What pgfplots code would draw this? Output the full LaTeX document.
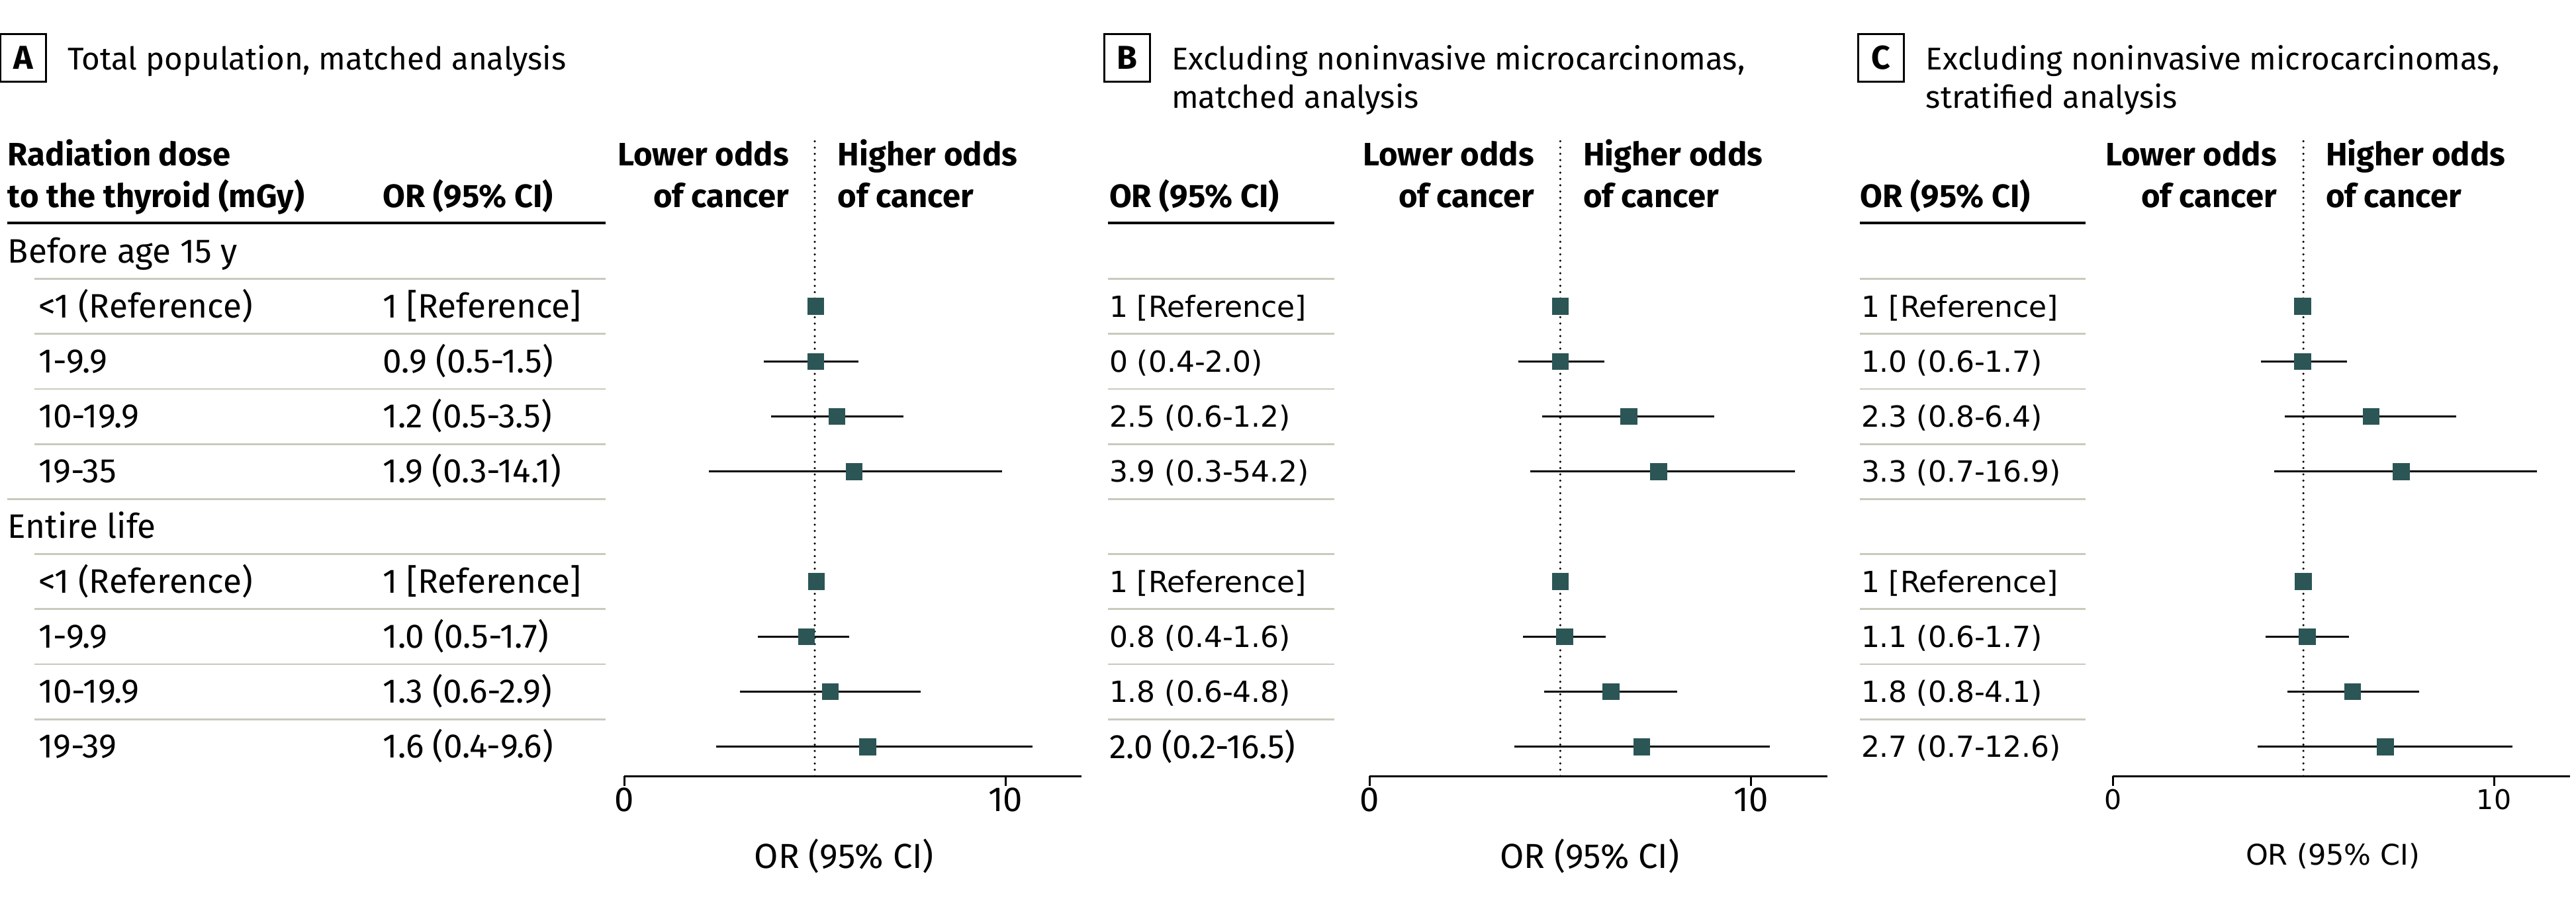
\documentclass[border=0pt]{standalone}
\usepackage{fontspec}
\setmainfont{Fira Sans}
\newfontfamily\wide{DejaVu Sans}
\usepackage{pgfplots}
\usepackage{pgfplotstable}
\pgfplotsset{compat=1.18}

\definecolor{markcol}{RGB}{43,86,85}
\definecolor{rulecol}{RGB}{200,202,188}

% rows: 1-4 before age 15, 6-9 entire life; or = point, lo/hi = CI ends (axis units as drawn)
\pgfplotstableread{
row or lo hi
-1 5.03 5.03 5.03
-2 5.03 3.67 6.15
-3 5.58 3.85 7.32
-4 6.03 2.22 9.91
-6 5.04 5.04 5.04
-7 4.78 3.50 5.90
-8 5.41 3.04 7.78
-9 6.39 2.41 10.71
}\dataA
\pgfplotstableread{
row or lo hi
-1 5.00 5.00 5.00
-2 5.00 3.91 6.16
-3 6.80 4.53 9.03
-4 7.58 4.22 11.15
-6 5.00 5.00 5.00
-7 5.12 4.03 6.20
-8 6.33 4.58 8.06
-9 7.14 3.80 10.49
}\dataB
\pgfplotstableread{
row or lo hi
-1 4.98 4.98 4.98
-2 4.98 3.88 6.15
-3 6.78 4.51 9.01
-4 7.57 4.23 11.12
-6 5.00 5.00 5.00
-7 5.10 4.01 6.19
-8 6.29 4.58 8.04
-9 7.15 3.80 10.49
}\dataC

\pgfplotsset{
  forest/.style={
    scale only axis, anchor=south west,
    width=138.24pt, height=192.8pt,
    xmin=0, xmax=12, ymin=-9.531, ymax=2.055,
    axis x line=bottom, axis y line=none,
    xtick={0,10}, tick align=outside, major tick length=3pt,
    axis line style={line width=0.6pt, -},
    tick style={line width=0.6pt, black},
    clip=false,
    /pgf/number format/assume math mode=true,
    xticklabel style={anchor=center, yshift=-4.2pt, font=\fontsize{10.5}{12}\selectfont},
    xlabel={OR (95\% CI)},
    xlabel style={at={(axis description cs:0.481,0)}, anchor=center, yshift=-24.2pt, font=\fontsize{10.5}{12}\selectfont},
  },
  cibars/.style={only marks, mark=none,
    error bars/.cd, x dir=both, x explicit, error mark=none,
    error bar style={draw=black, line width=0.55pt}},
  pts/.style={only marks, mark=square*, mark size=2.35pt,
    mark options={fill=markcol, draw=markcol}},
  refline/.style={line width=0.7pt, dash pattern=on 0pt off 1.9pt, line cap=round},
}

\newcommand{\forestplot}[1]{%
  \addplot[refline] coordinates {(5,-9.531) (5,2.055)};
  \addplot[cibars] table[x=or, y=row,
    x error plus expr=\thisrow{hi}-\thisrow{or},
    x error minus expr=\thisrow{or}-\thisrow{lo}] {#1};
  \addplot[pts] table[x=or, y=row] {#1};
}

\newcommand{\tx}[3]{\node[anchor=base west, inner sep=0pt] at (#1,#2) {#3};}
\newcommand{\tr}[3]{\node[anchor=base east, inner sep=0pt] at (#1,#2) {#3};}

\begin{document}
\begin{tikzpicture}
\useasboundingbox (0,0) rectangle (778.4pt,-273.4pt);

\begin{scope}[x=0.2pt, y=-0.2pt]
  \fontsize{10.25}{12}\selectfont
  % panel boxes and titles
  \foreach \bx/\lt in {1/A, 1668/B, 2807/C} {
    \draw[line width=0.6pt] (\bx,51) rectangle ({\bx+69},123);
    \node[font=\bfseries\fontsize{10}{12}\selectfont, inner sep=0pt] at ({\bx+34.5},87) {\lt};
  }
  \begingroup\fontsize{9.5}{12}\selectfont
  \tx{101}{105}{Total population, matched analysis}
  \tx{1769}{105}{Excluding noninvasive microcarcinomas,}
  \tx{1769}{163}{matched analysis}
  \tx{2909}{105}{Excluding noninvasive microcarcinomas,}
  \tx{2909}{163}{stratified analysis}
  \endgroup

  % column headers
  \begingroup\bfseries\fontsize{9.8}{12}\selectfont
  \tx{11}{250}{Radiation dose}
  \tx{11}{313}{to the thyroid (mGy)}
  \tx{578}{313}{OR (95\% CI)}
  \tx{1675}{313}{OR (95\% CI)}
  \tx{2810}{313}{OR (95\% CI)}
  \foreach \d in {1231, 2357, 3479} {
    \tr{\d-38}{250}{Lower odds}
    \tr{\d-38}{313}{of cancer}
    \tx{\d+34}{250}{Higher odds}
    \tx{\d+34}{313}{of cancer}
  }
  \endgroup
  \draw[line width=0.85pt] (11,337) -- (915,337);
  \draw[line width=0.85pt] (1674,337) -- (2016,337);
  \draw[line width=0.85pt] (2810,337) -- (3151,337);

  % row separators
  \foreach \i in {0,...,8} {
    \pgfmathsetmacro{\yy}{380+83.2*(\i+0.5)}
    \ifnum\i=4
      \draw[rulecol, line width=0.55pt] (11,\yy) -- (915,\yy);
    \else
      \draw[rulecol, line width=0.55pt] (52,\yy) -- (915,\yy);
    \fi
    \draw[rulecol, line width=0.55pt] (1674,\yy) -- (2016,\yy);
    \draw[rulecol, line width=0.55pt] (2810,\yy) -- (3151,\yy);
  }

  % panel A table
  \tx{11}{397}{Before age 15 y}
  \tx{11}{813}{Entire life}
  \foreach \i/\lab/\val in {1/{<1 (Reference)}/{1 [Reference]},
      2/{1-9.9}/{0.9 (0.5-1.5)}, 3/{10-19.9}/{1.2 (0.5-3.5)}, 4/{19-35}/{1.9 (0.3-14.1)},
      6/{<1 (Reference)}/{1 [Reference]}, 7/{1-9.9}/{1.0 (0.5-1.7)},
      8/{10-19.9}/{1.3 (0.6-2.9)}, 9/{19-39}/{1.6 (0.4-9.6)}} {
    \pgfmathsetmacro{\yy}{380+83.2*\i+17}
    \tx{57}{\yy}{\lab}
    \tx{578}{\yy}{\val}
  }
  % panel B table
  \begingroup\wide\fontsize{8.8}{11}\selectfont
  \foreach \i/\val in {1/{1 [Reference]}, 2/{0 (0.4-2.0)}, 3/{2.5 (0.6-1.2)}, 4/{3.9 (0.3-54.2)},
      6/{1 [Reference]}, 7/{0.8 (0.4-1.6)}, 8/{1.8 (0.6-4.8)}} {
    \pgfmathsetmacro{\yy}{380+83.2*\i+16}
    \tx{1675}{\yy}{\val}
  }
  \endgroup
  \tx{1675}{1146}{2.0 (0.2-16.5)}
  % panel C table
  \begingroup\wide\fontsize{8.8}{11}\selectfont
  \foreach \i/\val in {1/{1 [Reference]}, 2/{1.0 (0.6-1.7)}, 3/{2.3 (0.8-6.4)}, 4/{3.3 (0.7-16.9)},
      6/{1 [Reference]}, 7/{1.1 (0.6-1.7)}, 8/{1.8 (0.8-4.1)}, 9/{2.7 (0.7-12.6)}} {
    \pgfmathsetmacro{\yy}{380+83.2*\i+16}
    \tx{2811}{\yy}{\val}
  }
  \endgroup
\end{scope}

\begin{axis}[forest, at={(188.6pt,-234.6pt)}]
  \forestplot{\dataA}
\end{axis}

\begin{axis}[forest, at={(413.8pt,-234.6pt)}, width=138.36pt]
  \forestplot{\dataB}
\end{axis}

\begin{axis}[forest, at={(638.4pt,-234.6pt)},
  xticklabel style={font=\wide\fontsize{8.2}{11}\selectfont},
  xlabel style={font=\wide\fontsize{8.6}{11}\selectfont}]
  \forestplot{\dataC}
\end{axis}
\end{tikzpicture}
\end{document}
